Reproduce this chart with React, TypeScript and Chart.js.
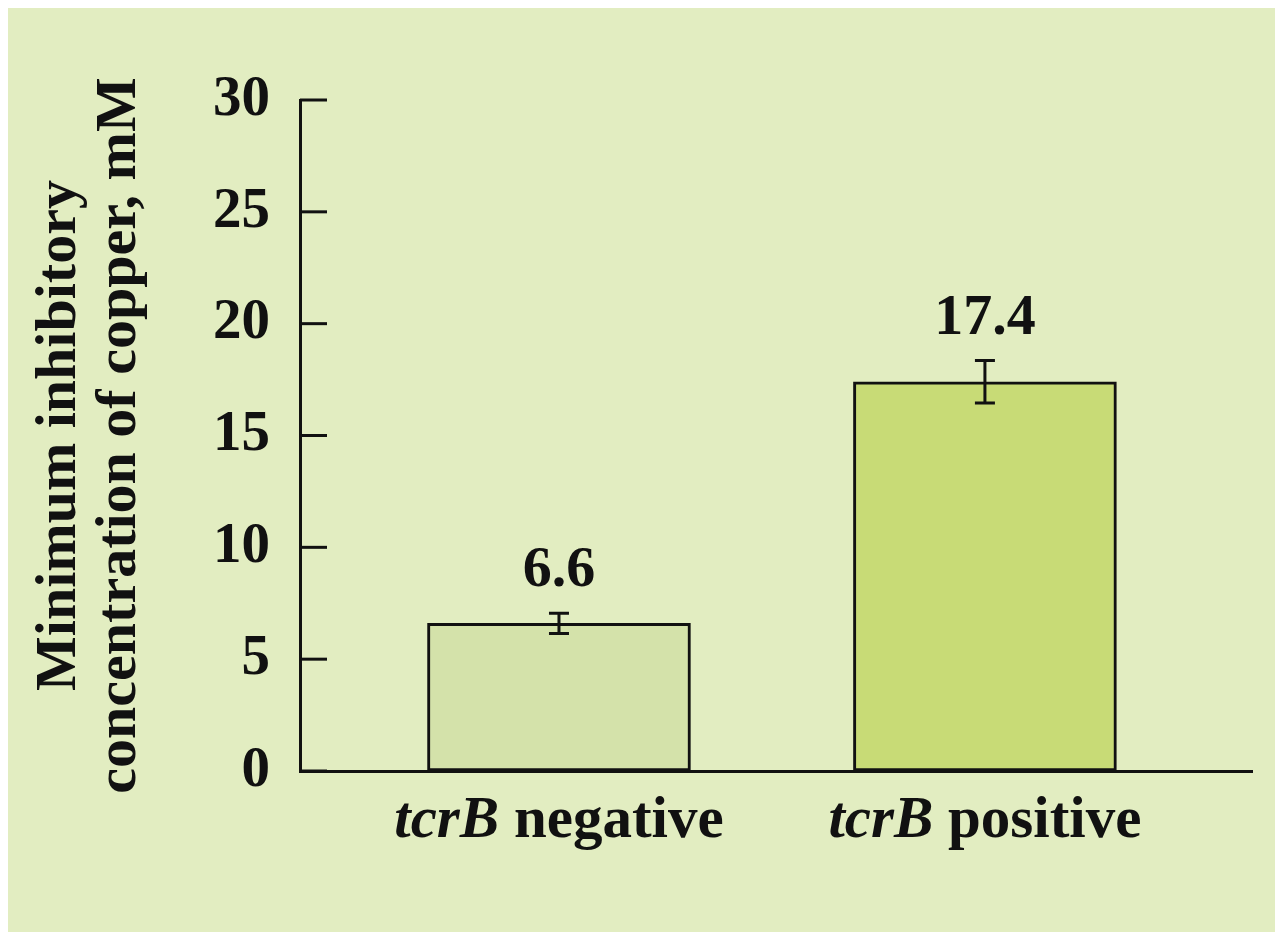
import React, { useEffect, useRef } from "react";
import { Chart, registerables } from "chart.js";

Chart.register(...registerables);

const categories = ["negative", "positive"];
const categoryPrefix = "tcrB";
const positions = [0, 1];
const values = [6.6, 17.4];
const errors = [0.45, 0.95];
const valueLabels = ["6.6", "17.4"];
const yTicks = [0, 5, 10, 15, 20, 25, 30];
const yTitle = ["Minimum inhibitory", "concentration of copper, mM"];

const BG = "#e2edc1";
const INK = "#111111";
const FONT = "'Liberation Serif', 'Times New Roman', serif";
const barColors = ["#d4e2aa", "#c8db76"];

export default function App() {
  const ref = useRef<HTMLCanvasElement | null>(null);

  useEffect(() => {
    document.documentElement.style.overflow = "hidden";
    document.body.style.overflow = "hidden";
    const canvas = ref.current;
    if (!canvas) return;

    const bgPlugin = {
      id: "bg",
      beforeDraw(chart: any) {
        const ctx = chart.ctx;
        ctx.save();
        ctx.fillStyle = BG;
        ctx.fillRect(0, 0, chart.width, chart.height);
        ctx.restore();
      },
    };

    const decorPlugin = {
      id: "decor",
      afterDatasetsDraw(chart: any) {
        const ctx = chart.ctx;
        const y = chart.scales.y;
        const x = chart.scales.x;
        const area = chart.chartArea;
        ctx.save();
        ctx.strokeStyle = INK;
        ctx.lineWidth = 3;
        // inward ticks
        yTicks.forEach((t) => {
          const py = y.getPixelForValue(t);
          ctx.beginPath();
          ctx.moveTo(area.left, py);
          ctx.lineTo(area.left + 27, py);
          ctx.stroke();
        });
        // error bars and value labels
        const meta = chart.getDatasetMeta(0);
        meta.data.forEach((el: any, i: number) => {
          const cx = el.x;
          const top = y.getPixelForValue(values[i] + errors[i]);
          const bot = y.getPixelForValue(values[i] - errors[i]);
          ctx.beginPath();
          ctx.moveTo(cx, top);
          ctx.lineTo(cx, bot);
          ctx.moveTo(cx - 10, top);
          ctx.lineTo(cx + 10, top);
          ctx.moveTo(cx - 10, bot);
          ctx.lineTo(cx + 10, bot);
          ctx.stroke();
          ctx.fillStyle = INK;
          ctx.font = `bold 58px ${FONT}`;
          ctx.textAlign = "center";
          ctx.textBaseline = "alphabetic";
          ctx.fillText(valueLabels[i], cx, top - 27);
        });
        // category labels (mixed italic + bold)
        positions.forEach((p, i) => {
          const cx = x.getPixelForValue(p);
          const italicFont = `italic bold 59px ${FONT}`;
          const boldFont = `bold 59px ${FONT}`;
          const a = categoryPrefix;
          const b = " " + categories[i];
          ctx.font = italicFont;
          const wa = ctx.measureText(a).width;
          ctx.font = boldFont;
          const wb = ctx.measureText(b).width;
          const start = cx - (wa + wb) / 2;
          const baseY = area.bottom + 66;
          ctx.fillStyle = INK;
          ctx.textAlign = "left";
          ctx.textBaseline = "alphabetic";
          ctx.font = italicFont;
          ctx.fillText(a, start, baseY);
          ctx.font = boldFont;
          ctx.fillText(b, start + wa, baseY);
        });
        ctx.restore();
      },
    };

    const chart = new Chart(canvas, {
      type: "bar",
      data: {
        datasets: [
          {
            data: positions.map((p, i) => ({ x: p, y: values[i] })),
            backgroundColor: barColors,
            borderColor: INK,
            borderWidth: 3,
            borderSkipped: false,
            barThickness: 263,
          },
        ],
      },
      options: {
        responsive: false,
        animation: false,
        layout: { padding: { top: 92, right: 31, left: 0, bottom: 0 } },
        plugins: {
          legend: { display: false },
          tooltip: { enabled: false },
        },
        scales: {
          x: {
            type: "linear",
            offset: false,
            min: -0.608,
            max: 1.627,
            grid: { display: false, drawTicks: false },
            border: { display: true, color: INK, width: 3 },
            ticks: { display: false },
            afterFit(scale: any) {
              scale.height = 161;
            },
          },
          y: {
            min: 0,
            max: 30,
            afterBuildTicks(scale: any) {
              scale.ticks = yTicks.map((v) => ({ value: v }));
            },
            grid: { display: false, drawTicks: false },
            border: { display: true, color: INK, width: 3 },
            ticks: {
              color: INK,
              padding: 30,
              font: { family: FONT, size: 57, weight: "bold" },
            },
            title: {
              display: true,
              text: yTitle,
              color: INK,
              font: { family: FONT, size: 58, weight: "bold", lineHeight: 1.03 },
              padding: { top: 22, bottom: 0 },
            },
            afterFit(scale: any) {
              scale.width = 292;
            },
          },
        },
      },
      plugins: [bgPlugin, decorPlugin],
    } as any);

    return () => chart.destroy();
  }, []);

  return (
    <canvas
      ref={ref}
      width={1275}
      height={924}
      style={{ display: "block", width: 1275, height: 924 }}
    />
  );
}
